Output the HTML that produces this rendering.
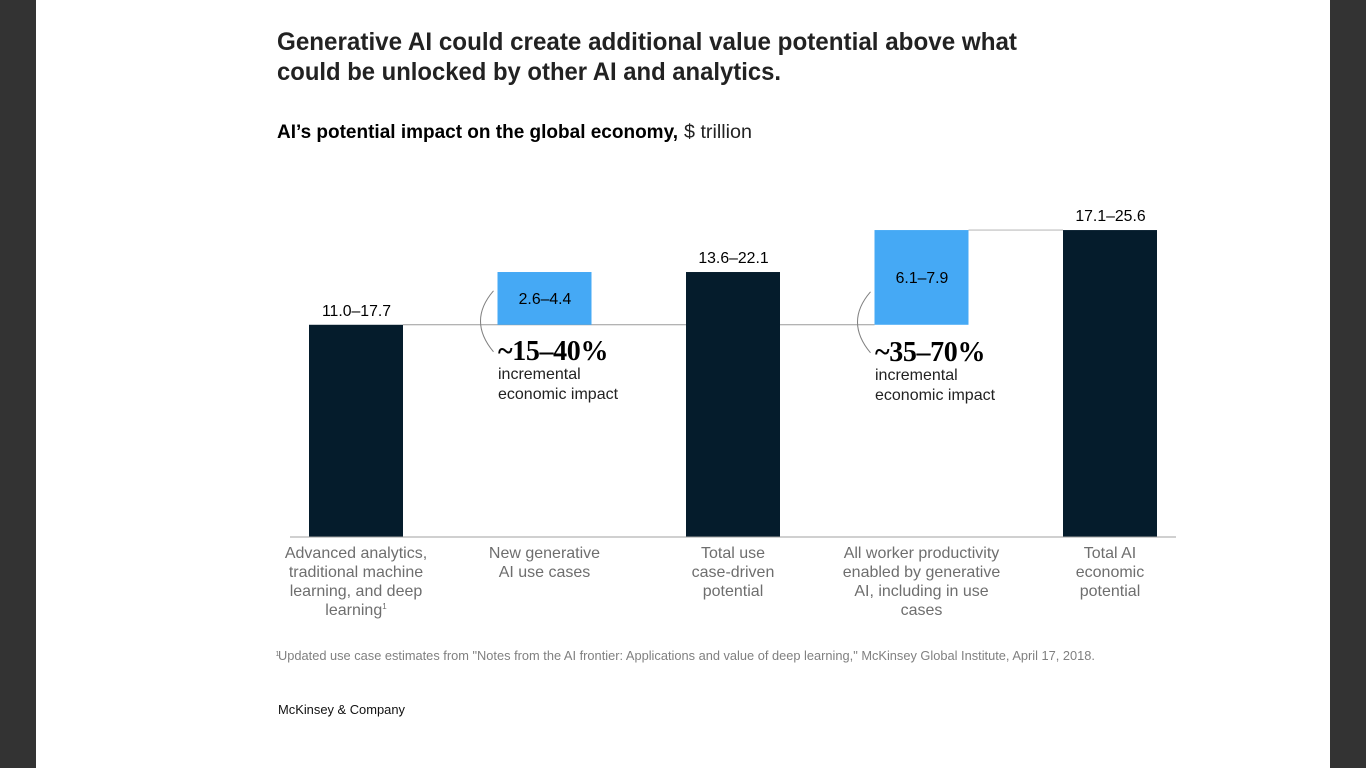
<!DOCTYPE html>
<html lang="en">
<head>
<meta charset="utf-8">
<title>Generative AI value potential</title>
<style>
html,body{margin:0;padding:0;width:1366px;height:768px;overflow:hidden;background:#333}
svg{display:block;position:absolute;left:0;top:0}
text{font-family:"Liberation Sans",sans-serif}
.serif{font-family:"Liberation Serif",serif;font-weight:700;letter-spacing:-0.35px}
</style>
</head>
<body>
<svg id="chart" width="1366" height="768" viewBox="0 0 1366 768">
  <rect x="0" y="0" width="1366" height="768" fill="#333333"/>
  <rect x="36" y="0" width="1294" height="768" fill="#ffffff"/>
  <text x="277" y="50" font-size="25" font-weight="700" fill="#222222" textLength="740" lengthAdjust="spacingAndGlyphs">Generative AI could create additional value potential above what</text>
  <text x="277" y="80" font-size="25" font-weight="700" fill="#222222" textLength="504" lengthAdjust="spacingAndGlyphs">could be unlocked by other AI and analytics.</text>
  <text x="277" y="138" font-size="19" font-weight="700" fill="#000000" textLength="401" lengthAdjust="spacingAndGlyphs">AI’s potential impact on the global economy,</text>
  <text x="684" y="138" font-size="19" fill="#222222" textLength="68" lengthAdjust="spacingAndGlyphs">$ trillion</text>
  <g id="connectors"></g>
  <g id="bars"></g>
  <g id="values"></g>
  <g id="notes"></g>
  <g id="xaxis"></g>
  <text x="275.5" y="656" font-size="7" fill="#808080">1</text>
  <text x="278" y="660" font-size="12.5" fill="#808080" textLength="817" lengthAdjust="spacingAndGlyphs">Updated use case estimates from "Notes from the AI frontier: Applications and value of deep learning," McKinsey Global Institute, April 17, 2018.</text>
  <text x="278" y="714" font-size="13" fill="#111111" textLength="127" lengthAdjust="spacingAndGlyphs">McKinsey &amp; Company</text>
</svg>
<script>
var categories = [
  ["Advanced analytics,", "traditional machine", "learning, and deep", "learning"],
  ["New generative", "AI use cases"],
  ["Total use", "case-driven", "potential"],
  ["All worker productivity", "enabled by generative", "AI, including in use", "cases"],
  ["Total AI", "economic", "potential"]
];
var lowValues = [11.0, 2.6, 13.6, 6.1, 17.1];
var highValues = [17.7, 4.4, 22.1, 7.9, 25.6];
var baseValues = [0, 17.7, 0, 17.7, 0];
var barKinds = ["total", "increment", "total", "increment", "total"];
var percentLabels = ["", "~15–40%", "", "~35–70%", ""];
var noteLines = ["incremental", "economic impact"];

var SVG_NS = "http://www.w3.org/2000/svg";
var barWidth = 94;
function xCenter(i) { return 356 + i * 188.5; }
function barLeft(i) { return xCenter(i) - barWidth / 2; }
function barRight(i) { return xCenter(i) + barWidth / 2; }
function yScale(v) { return 537 - v * 11.99; }
function make(tag, parent, attrs, content) {
  var el = document.createElementNS(SVG_NS, tag);
  for (var k in attrs) { el.setAttribute(k, attrs[k]); }
  if (content !== undefined) { el.textContent = content; }
  document.getElementById(parent).appendChild(el);
  return el;
}
function fmt(v) { return v.toFixed(1); }

var firstLine = make("line", "connectors", {
  x1: barRight(0), x2: barLeft(3), y1: yScale(highValues[0]), y2: yScale(highValues[0]),
  stroke: "#9a9a9a", "stroke-width": 1
});


var secondLine = make("line", "connectors", {
  x1: barRight(3), x2: barLeft(4), y1: yScale(highValues[4]), y2: yScale(highValues[4]),
  stroke: "#bdbdbd", "stroke-width": 1.2
});



categories.forEach(function (lines, i) {
  var top = yScale(baseValues[i] + highValues[i]);
  var bottom = yScale(baseValues[i]);
  var isIncrement = barKinds[i] === "increment";

  var bar = make("rect", "bars", {
    x: barLeft(i), y: top, width: barWidth, height: bottom - top,
    fill: isIncrement ? "#45a9f5" : "#051c2c"
  });
  
  

  var labelY = isIncrement ? (top + bottom) / 2 + 5.5 : top - 9;
  var value = make("text", "values", {
    x: xCenter(i) + 0.5, y: labelY, "font-size": 15.8, "text-anchor": "middle", fill: "#000000"
  }, fmt(lowValues[i]) + "–" + fmt(highValues[i]));
  
  

  lines.forEach(function (line, n) {
    var label = make("text", "xaxis", {
      x: xCenter(i), y: 558 + n * 19, "font-size": 16, "text-anchor": "middle", fill: "#6e6e6e"
    }, line);
    
    
    if (i === 0 && n === lines.length - 1) {
      var sup = make("tspan", "xaxis", { "font-size": 8, dy: -6 }, "1");
      label.appendChild(sup);
      
      
    }
  });

  if (isIncrement) {
    var bx = barLeft(i);
    var by = bottom + (i === 3 ? 1 : 0);
    var bracket = make("path", "notes", {
      d: "M" + (bx - 4) + " " + (by - 34) + " Q" + (bx - 30) + " " + (by - 4) + " " + (bx - 4) + " " + (by + 27),
      fill: "none", stroke: "#808080", "stroke-width": 1
    });
    
    

    var pct = make("text", "notes", {
      x: bx + 0.5, y: by + 35, "font-size": 28, "class": "serif", fill: "#000000"
    }, percentLabels[i]);
    
    

    noteLines.forEach(function (t, n) {
      var note = make("text", "notes", {
        x: bx + 0.5, y: by + 54 + n * 20, "font-size": 16, fill: "#222222"
      }, t);
      
      
    });
  }
});

var axisLine = make("line", "xaxis", {
  x1: 290, x2: 1176, y1: yScale(0), y2: yScale(0), stroke: "#a0a0a0", "stroke-width": 1
});


</script>
</body>
</html>
